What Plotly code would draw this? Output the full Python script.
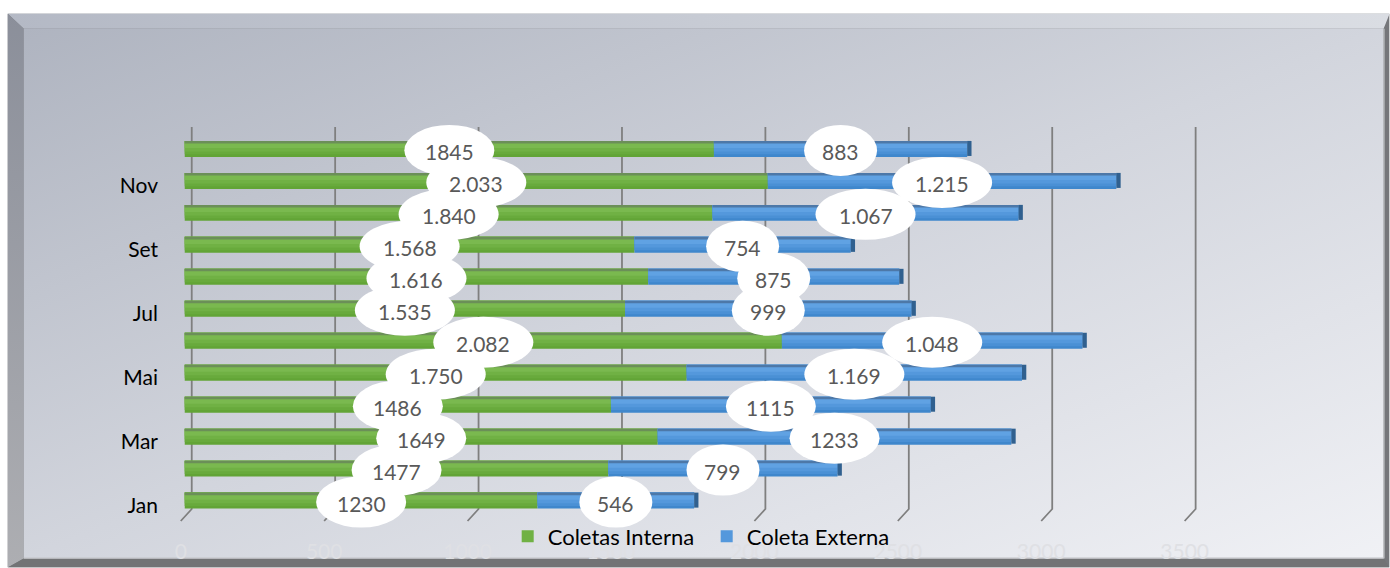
import base64
import plotly.graph_objects as go

months = ["Jan", "Fev", "Mar", "Abr", "Mai", "Jun", "Jul", "Ago", "Set", "Out", "Nov", "Dez"]
month_ticks = ["Jan", "Mar", "Mai", "Jul", "Set", "Nov"]
interna = [1230, 1477, 1649, 1486, 1750, 2082, 1535, 1616, 1568, 1840, 2033, 1845]
externa = [546, 799, 1233, 1115, 1169, 1048, 999, 875, 754, 1067, 1215, 883]
interna_labels = ["1230", "1477", "1649", "1486", "1.750", "2.082", "1.535", "1.616", "1.568", "1.840", "2.033", "1845"]
externa_labels = ["546", "799", "1233", "1115", "1.169", "1.048", "999", "875", "754", "1.067", "1.215", "883"]
x_ticks = [0, 500, 1000, 1500, 2000, 2500, 3000, 3500]

W, H = 1390, 568
X_RANGE = [-20, 3700]
Y_RANGE = [-1.045, 11.905]
L, R, T, B = 179.26, 1246.4, 119.5, 534.5
FONT = "Lato"

svg = f'''<svg xmlns="http://www.w3.org/2000/svg" width="{W}" height="{H}" viewBox="0 0 {W} {H}">
<defs>
<linearGradient id="g" x1="0" y1="0" x2="1" y2="1">
<stop offset="0" stop-color="#afb4c0"/><stop offset="0.5" stop-color="#d2d5dd"/><stop offset="1" stop-color="#f0f1f5"/></linearGradient>
<linearGradient id="t" x1="0" y1="0" x2="1" y2="0">
<stop offset="0" stop-color="#b4b9c5"/><stop offset="1" stop-color="#dadde3"/></linearGradient>
<linearGradient id="l" x1="0" y1="0" x2="0" y2="1">
<stop offset="0" stop-color="#8b8f9a"/><stop offset="1" stop-color="#adaeb2"/></linearGradient>
</defs>
<rect x="8" y="13" width="1382" height="555" fill="#75767a"/>
<polygon points="8,13 1390,13 1384,28 24,28" fill="url(#t)"/>
<polygon points="8,13 24,28 24,559 8,568" fill="url(#l)"/>
<polygon points="8,568 24,559 1384,559 1390,568" fill="#727375"/>
<rect x="24" y="28" width="1360" height="531" fill="url(#g)"/>
<rect x="24" y="558" width="1360" height="1.2" fill="#c4c5c9"/>
<rect x="1384" y="28" width="1" height="531" fill="#c4c5c9"/>
</svg>'''
bg = "data:image/svg+xml;base64," + base64.b64encode(svg.encode()).decode()

GREEN = [(-0.25, "#62a436"), (-0.17, "#68aa3c"), (-0.08, "#70b144"), (0.03, "#7ab94f"), (0.17, "#6b8f58")]
BLUE = [(-0.25, "#3f87cc"), (-0.17, "#4a90d5"), (-0.08, "#5498dc"), (0.03, "#60a2e3"), (0.17, "#4d78a8")]
CAP_UNITS = 15
TOP = 0.25

fig = go.Figure()


def add_series(name, values, base, strips):
    for i, (off, col) in enumerate(strips):
        fig.add_trace(go.Bar(
            name=name, y=months, x=values, base=base, orientation="h",
            offset=off, width=TOP - off, marker=dict(color=col, line=dict(width=0)),
            legendgroup=name, showlegend=i == 2, hoverinfo="skip"))


add_series("Coletas Interna", interna, [0] * 12, GREEN)
totals = [a + b for a, b in zip(interna, externa)]
add_series("Coleta Externa", externa, interna, BLUE)
fig.add_trace(go.Bar(y=months, x=[CAP_UNITS] * 12, base=totals, orientation="h",
                     offset=-0.22, width=0.47, marker=dict(color="#30608f", line=dict(width=0)),
                     showlegend=False, hoverinfo="skip"))

shapes = []
for t in x_ticks:
    shapes.append(dict(type="path", layer="below", xref="x", yref="paper",
                       xsizemode="pixel", ysizemode="pixel", xanchor=t, yanchor=0,
                       path="M -4 13 L 7 25 L 7 407",
                       line=dict(color="#7f7f7f", width=1.8)))

WIDTHS = {3: 73, 4: 90, 5: 100}
annotations = []


def add_labels(labels, centers):
    for m, lab, cx in zip(months, labels, centers):
        hw = WIDTHS[len(lab)] / 2
        shapes.append(dict(type="circle", layer="above", xref="x", yref="y",
                           xsizemode="pixel", ysizemode="pixel", xanchor=cx, yanchor=m,
                           x0=-hw, x1=hw, y0=-27, y1=24,
                           fillcolor="white", line=dict(width=0)))
        annotations.append(dict(x=cx, y=m, xref="x", yref="y", text=lab, showarrow=False,
                                yshift=-3, font=dict(family=FONT, size=21, color="#595959")))


add_labels(interna_labels, [v / 2 for v in interna])
add_labels(externa_labels, [a + b / 2 for a, b in zip(interna, externa)])

fig.update_layout(
    width=W, height=H, autosize=False,
    margin=dict(l=L, r=W - R, t=T, b=H - B, pad=0, autoexpand=False),
    paper_bgcolor="white", plot_bgcolor="rgba(0,0,0,0)",
    barmode="overlay",
    font=dict(family=FONT, size=21, color="#000000"),
    shapes=shapes, annotations=annotations,
    images=[dict(source=bg, xref="paper", yref="paper", layer="below",
                 x=-L / (R - L), y=1 + T / (B - T),
                 sizex=W / (R - L), sizey=H / (B - T), sizing="stretch",
                 xanchor="left", yanchor="top")],
    xaxis=dict(range=X_RANGE, tickmode="array", tickvals=x_ticks, showgrid=False, zeroline=False,
               showline=False, ticks="", automargin=False, ticklabelstandoff=3, ticklabelshift=-4,
               tickfont=dict(family=FONT, size=21, color="#dfe0e4")),
    yaxis=dict(type="category", categoryorder="array", categoryarray=months, range=Y_RANGE,
               tickmode="array", tickvals=month_ticks, showgrid=False, zeroline=False,
               showline=False, ticks="", automargin=False, ticklabelstandoff=20, ticklabelshift=5,
               tickfont=dict(family=FONT, size=21, color="#000000")),
    legend=dict(orientation="h", x=(508 - L) / (R - L), xanchor="left", y=(B - 537) / (B - T), yanchor="middle",
                bgcolor="rgba(0,0,0,0)", font=dict(family=FONT, size=22, color="#000000"),
                traceorder="normal", entrywidth=154, entrywidthmode="pixels",
                itemclick=False, itemdoubleclick=False),
)

fig.write_html("out.html", config={"displayModeBar": False},
               post_script="document.body.style.margin='0';document.body.style.overflow='hidden';")
